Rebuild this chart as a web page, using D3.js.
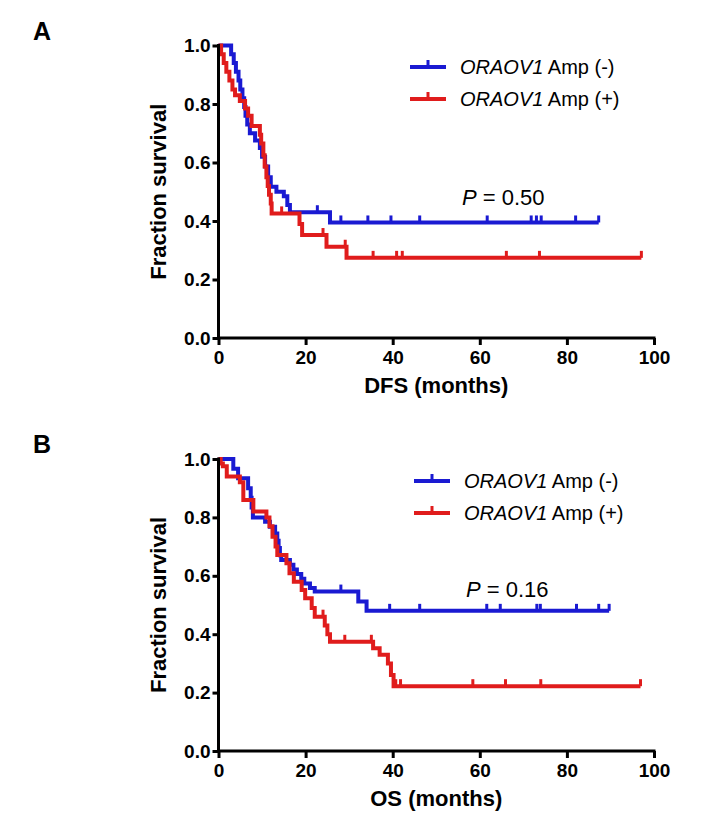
<!DOCTYPE html>
<html><head><meta charset="utf-8">
<script src="https://cdn.jsdelivr.net/npm/d3@7"></script>
<style>
body{margin:0;background:#fff}
svg{display:block}
text{font-family:"Liberation Sans",Arial,Helvetica,sans-serif;fill:#000}
</style>
</head><body>
<svg id="chart" width="722" height="830"></svg>
<script>
// ---------- data ----------
const xTicks = [0, 20, 40, 60, 80, 100];
const yTicks = [0, 0.2, 0.4, 0.6, 0.8, 1.0];
const gene = "ORAOV1";
const groupLabels = ["Amp (-)", "Amp (+)"];
const panelLetters = ["A", "B"];
const xTitles = ["DFS (months)", "OS (months)"];
const yTitle = "Fraction survival";
const pValues = ["0.50", "0.16"];

// Panel A: DFS, ORAOV1 Amp (-)
const dfsNegTime = [0, 2.9, 3.5, 4.0, 4.6, 5.0, 5.5, 5.9, 6.2, 6.6, 7.2, 8.4, 9.5, 10.0, 10.7, 11.4, 12.0, 13.3, 15.0, 15.8, 16.4, 25.6];
const dfsNegSurv = [1, 0.97, 0.94, 0.91, 0.88, 0.85, 0.82, 0.79, 0.76, 0.73, 0.70, 0.675, 0.65, 0.62, 0.586, 0.55, 0.517, 0.50, 0.485, 0.455, 0.43, 0.395];
const dfsNegCensor = [22.7, 28.1, 34.3, 39.6, 46.2, 61.7, 71.8, 73.0, 74.1, 82.0, 87.3];
// Panel A: DFS, ORAOV1 Amp (+)
const dfsPosTime = [0, 0.6, 1.2, 1.8, 2.5, 3.2, 3.8, 4.9, 6.1, 6.8, 7.6, 9.5, 9.8, 10.3, 10.6, 11.0, 11.3, 11.6, 12.0, 12.2, 18.6, 19.2, 24.8, 29.4];
const dfsPosSurv = [1, 0.97, 0.94, 0.91, 0.88, 0.85, 0.83, 0.81, 0.785, 0.76, 0.725, 0.695, 0.665, 0.625, 0.586, 0.55, 0.52, 0.49, 0.46, 0.426, 0.39, 0.352, 0.312, 0.274];
const dfsPosCensor = [14.5, 24.0, 29.1, 35.5, 40.9, 42.2, 66.1, 73.7, 97.1];

// Panel B: OS, ORAOV1 Amp (-)
const osNegTime = [0, 3.4, 4.5, 6.8, 7.4, 7.6, 7.9, 10.7, 11.8, 13.0, 13.5, 13.8, 14.1, 14.4, 16.4, 17.2, 18.0, 19.0, 19.7, 21.0, 22.1, 32.1, 34.0];
const osNegSurv = [1, 0.967, 0.934, 0.90, 0.867, 0.834, 0.80, 0.785, 0.768, 0.745, 0.72, 0.695, 0.67, 0.654, 0.638, 0.622, 0.606, 0.59, 0.574, 0.558, 0.546, 0.512, 0.48];
const osNegCensor = [28.1, 39.3, 46.2, 61.6, 64.7, 73.1, 73.9, 82.2, 87.3, 89.7];
// Panel B: OS, ORAOV1 Amp (+)
const osPosTime = [0, 0.5, 1.0, 1.9, 4.9, 5.7, 8.0, 11.0, 11.7, 12.4, 13.1, 13.5, 15.6, 16.3, 17.3, 19.1, 19.9, 21.4, 22.1, 24.4, 25.0, 25.6, 35.5, 37.0, 38.9, 39.6, 40.2];
const osPosSurv = [1, 0.985, 0.975, 0.94, 0.92, 0.86, 0.82, 0.80, 0.77, 0.734, 0.70, 0.671, 0.643, 0.609, 0.58, 0.551, 0.523, 0.49, 0.46, 0.43, 0.40, 0.374, 0.352, 0.33, 0.30, 0.26, 0.222];
const osPosCensor = [24.0, 29.0, 35.1, 40.7, 41.8, 58.4, 65.9, 74.0, 96.9];

// ---------- layout ----------
const colors = ["#1a1ad2", "#e01c1c"];
const panels = [
  {top: 45.5, bottom: 338, legendY: [67, 99], legendX: 410, pX: 462, pY: 205,
   series: [[dfsNegTime, dfsNegSurv, dfsNegCensor], [dfsPosTime, dfsPosSurv, dfsPosCensor]]},
  {top: 459, bottom: 751, legendY: [481, 513], legendX: 414, pX: 466, pY: 597,
   series: [[osNegTime, osNegSurv, osNegCensor], [osPosTime, osPosSurv, osPosCensor]]}
];
const left = 218.5, right = 654;

const svg = d3.select("#chart");

panels.forEach((p, pi) => {
  const x = d3.scaleLinear().domain([0, 100]).range([left, right]);
  const y = d3.scaleLinear().domain([0, 1]).range([p.bottom, p.top]);
  const g = svg.append("g");

  // curves
  p.series.forEach((s, si) => {
    const [times, surv, cens] = s;
    const endT = d3.max(cens);
    const pts = times.map((t, i) => [t, surv[i]]);
    pts.push([endT, surv[surv.length - 1]]);
    const line = d3.line().x(d => x(d[0])).y(d => y(d[1])).curve(d3.curveStepAfter);
    g.append("path").attr("d", line(pts)).attr("fill", "none")
      .attr("stroke", colors[si]).attr("stroke-width", 4).attr("stroke-linejoin", "miter");
    const survAt = t => { let v = 1; times.forEach((tt, i) => { if (tt <= t) v = surv[i]; }); return v; };
    cens.forEach(c => {
      const yy = y(survAt(c));
      g.append("line").attr("x1", x(c)).attr("x2", x(c)).attr("y1", yy).attr("y2", yy - 7)
        .attr("stroke", colors[si]).attr("stroke-width", 3);
    });
  });

  // axes
  const xAxis = g.append("g").attr("transform", `translate(0,${p.bottom})`)
    .call(d3.axisBottom(x).tickValues(xTicks).tickSize(7).tickSizeOuter(0).tickPadding(6).tickFormat(d3.format("d")));
  const yAxis = g.append("g").attr("transform", `translate(${left},0)`)
    .call(d3.axisLeft(y).tickValues(yTicks).tickSize(6).tickSizeOuter(0).tickPadding(2).tickFormat(d3.format(".1f")));
  [xAxis, yAxis].forEach(a => {
    a.select(".domain").attr("stroke", "#000").attr("stroke-width", 3);
    a.selectAll(".tick line").attr("stroke", "#000").attr("stroke-width", 3);
    a.selectAll(".tick text").attr("font-size", 19).attr("font-weight", "bold")
      .attr("font-family", "'Liberation Sans', Arial, sans-serif").attr("fill", "#000");
  });
  xAxis.select(".domain").attr("d", `M${left - 1.5},0H${right + 1.5}`);
  yAxis.select(".domain").attr("d", `M0,${p.top - 1.5}V${p.bottom + 1.5}`);

  // titles
  g.append("text").attr("x", (left + right) / 2).attr("y", p.bottom + 55)
    .attr("text-anchor", "middle").attr("font-size", 22).attr("font-weight", "bold").text(xTitles[pi]);
  g.append("text").attr("transform", `translate(166,${(p.top + p.bottom) / 2}) rotate(-90)`)
    .attr("text-anchor", "middle").attr("font-size", 22).attr("font-weight", "bold").text(yTitle);
  g.append("text").attr("x", 33).attr("y", p.top - 6).attr("font-size", 25).attr("font-weight", "bold")
    .text(panelLetters[pi]);

  // legend
  groupLabels.forEach((lab, li) => {
    const ly = p.legendY[li];
    g.append("line").attr("x1", p.legendX).attr("x2", p.legendX + 36).attr("y1", ly).attr("y2", ly)
      .attr("stroke", colors[li]).attr("stroke-width", 4);
    g.append("line").attr("x1", p.legendX + 18).attr("x2", p.legendX + 18).attr("y1", ly).attr("y2", ly - 7)
      .attr("stroke", colors[li]).attr("stroke-width", 3);
    const t = g.append("text").attr("x", p.legendX + 50).attr("y", ly + 7).attr("font-size", 20);
    t.append("tspan").attr("font-style", "italic").text(gene);
    t.append("tspan").text(" " + lab);
  });

  // p value
  const pt = g.append("text").attr("x", p.pX).attr("y", p.pY).attr("font-size", 22);
  pt.append("tspan").attr("font-style", "italic").text("P");
  pt.append("tspan").text(" = " + pValues[pi]);
});
</script>
</body></html>
